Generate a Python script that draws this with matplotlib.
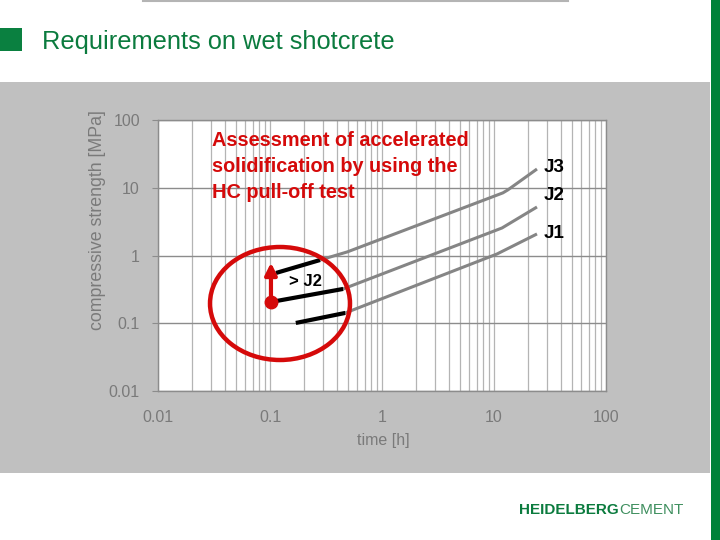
import numpy as np
import matplotlib
matplotlib.use("Agg")
import matplotlib.pyplot as plt
from matplotlib.patches import Rectangle, Ellipse
from matplotlib.ticker import FixedLocator, LogLocator, NullFormatter

plt.rcParams['font.family'] = ['Liberation Sans', 'DejaVu Sans']

# data (time [h], strength [MPa])
j1_black_t = [0.17, 0.47]
j1_black_s = [0.101, 0.142]
j1_gray_t = [0.47, 10.6, 24.2]
j1_gray_s = [0.142, 1.05, 2.08]

j2_black_t = [0.102, 0.45]
j2_black_s = [0.206, 0.321]
j2_gray_t = [0.45, 11.8, 24.2]
j2_gray_s = [0.321, 2.55, 5.2]

j3_black_t = [0.113, 0.28]
j3_black_s = [0.552, 0.858]
j3_gray_t = [0.28, 0.49, 12.0, 13.3, 24.2]
j3_gray_s = [0.858, 1.13, 8.4, 9.3, 18.9]

arrow_t = 0.102
arrow_from = 0.206
arrow_to = 0.86

x_ticks = [0.01, 0.1, 1, 10, 100]
x_ticklabels = ["0.01", "0.1", "1", "10", "100"]
y_ticks = [0.01, 0.1, 1, 10, 100]
y_ticklabels = ["0.01", "0.1", "1", "10", "100"]
curve_names = ["J3", "J2", "J1"]

W, H = 720, 540
GREEN = '#0b7b3e'
RED = '#d50a0a'
TXTGRAY = '#7a7a7a'


def px(x, y):
    return x / W, 1 - y / H


fig = plt.figure(figsize=(7.2, 5.4), dpi=100)
fig.patch.set_facecolor('white')

# slide decoration (behind the axes)
deco = fig.add_axes([0, 0, 1, 1], zorder=-5)
deco.set_xlim(0, W)
deco.set_ylim(H, 0)
deco.axis('off')
deco.add_patch(Rectangle((0, 82), 710, 391, facecolor='#c0c0c0', edgecolor='none'))
deco.add_patch(Rectangle((711, 0), 9, H, facecolor='#008139', edgecolor='none'))
deco.add_patch(Rectangle((0, 28), 22, 23, facecolor='#0a8040', edgecolor='none'))
deco.plot([143, 568], [1, 1], color='#b4b4b4', lw=1.5)

fig.text(*px(42, 42), "Requirements on wet shotcrete", color=GREEN, fontsize=18.3,
         ha='left', va='center')

ax = fig.add_axes([158 / W, 1 - 391 / H, 448 / W, 271 / H], zorder=1)
ax.set_facecolor('white')
ax.set_xscale('log')
ax.set_yscale('log')
ax.set_xlim(0.01, 100)
ax.set_ylim(0.01, 100)

ax.xaxis.set_major_locator(FixedLocator(x_ticks))
ax.xaxis.set_minor_locator(LogLocator(base=10, subs=np.arange(2, 10)))
ax.xaxis.set_minor_formatter(NullFormatter())
ax.set_xticklabels(x_ticklabels)
ax.yaxis.set_major_locator(FixedLocator(y_ticks))
ax.yaxis.set_minor_locator(plt.NullLocator())
ax.set_yticklabels(y_ticklabels)

ax.grid(True, which='major', axis='y', color='#8c8c8c', lw=1.0)
ax.grid(True, which='both', axis='x', color='#b4b4b4', lw=0.9)
ax.set_axisbelow(True)
for s in ax.spines.values():
    s.set_color('#8c8c8c')
    s.set_linewidth(1.0)
ax.tick_params(axis='y', which='major', length=4, color='#8c8c8c', pad=9,
               labelsize=11.5, labelcolor=TXTGRAY)
ax.tick_params(axis='x', which='both', length=0, pad=14, labelsize=11.5, labelcolor=TXTGRAY)

# curves
for t, s in [(j1_gray_t, j1_gray_s), (j2_gray_t, j2_gray_s), (j3_gray_t, j3_gray_s)]:
    ax.plot(t, s, color='#858585', lw=2.2, solid_capstyle='butt', zorder=3)
for t, s in [(j1_black_t, j1_black_s), (j2_black_t, j2_black_s), (j3_black_t, j3_black_s)]:
    ax.plot(t, s, color='black', lw=3.0, solid_capstyle='butt', zorder=4)

# red arrow and circle
ax.annotate('', xy=(arrow_t, arrow_to), xytext=(arrow_t, arrow_from),
            arrowprops=dict(arrowstyle='-|>,head_length=0.7,head_width=0.35',
                            color=RED, lw=3), zorder=6)
ax.plot([arrow_t], [arrow_from], 'o', color=RED, ms=9, zorder=7)
ax.add_patch(Ellipse(((280 - 158) / 448, (391 - 303.5) / 271), 140 / 448, 113 / 271,
                     transform=ax.transAxes, fill=False, edgecolor=RED, lw=3.2, zorder=8))

# labels
fig.text(*px(305, 281), "> J2", fontsize=12, fontweight='bold', ha='center', va='center')
label_y = [167, 196, 233]
for name, yy in zip(curve_names, label_y):
    fig.text(*px(554, yy), name, fontsize=13.5, fontweight='bold', ha='center', va='center')

fig.text(*px(212, 131), "Assessment of accelerated\nsolidification by using the\nHC pull-off test",
         color=RED, fontsize=14.3, fontweight='bold', ha='left', va='top', linespacing=1.45)

fig.text(*px(97, 220), "compressive strength [MPa]", rotation=90, color=TXTGRAY,
         fontsize=12.8, ha='center', va='center')
fig.text(*px(383, 441), "time [h]", color=TXTGRAY, fontsize=11.5, ha='center', va='center')

# logo
t1 = fig.text(*px(519, 510), "HEIDELBERG", color=GREEN, fontsize=11, fontweight='bold',
              ha='left', va='center')
fig.canvas.draw()
bb = t1.get_window_extent()
fig.text(bb.x1 / W + 1 / W, 1 - 510 / H, "CEMENT", color='#3f8f5f', fontsize=11,
         ha='left', va='center')

fig.savefig("out.png", dpi=100)
